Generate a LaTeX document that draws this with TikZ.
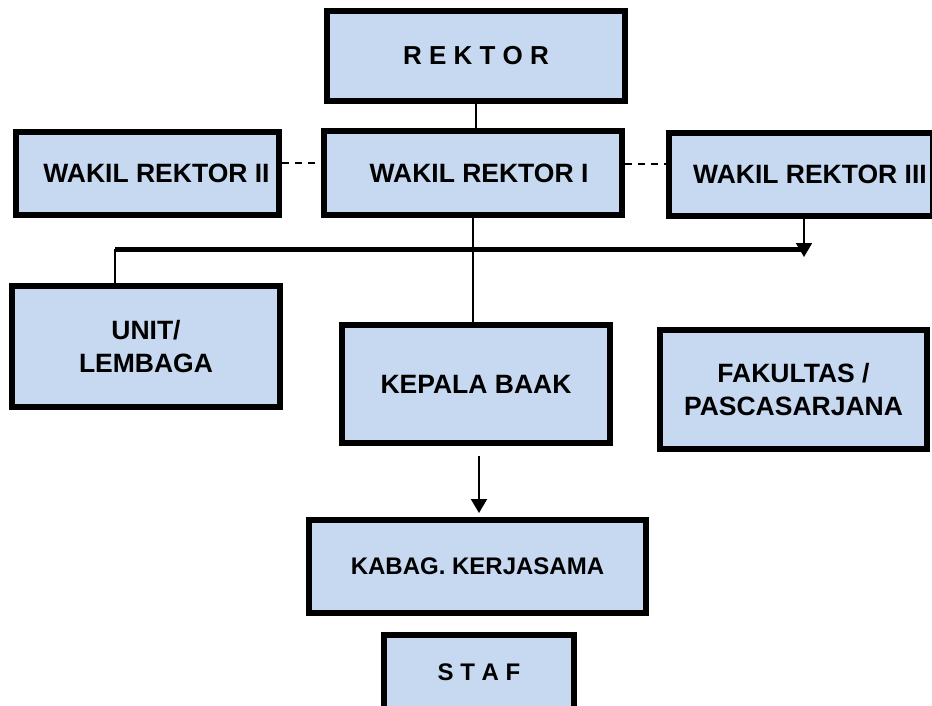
\documentclass[tikz,border=0pt]{standalone}
\usepackage{fontspec}
\setmainfont{Liberation Sans}
\usepackage{tikz}
\usetikzlibrary{arrows.meta}
\definecolor{boxblue}{HTML}{C6D9F1}

\begin{document}
\begin{tikzpicture}[x=1pt,y=-1pt,
    box/.style={draw=black,fill=boxblue,line width=6pt,inner sep=2pt,align=center,font=\fontsize{26.5}{33}\selectfont\bfseries},
    link/.style={line width=2pt},
    bus/.style={line width=5pt},
    down/.style={line width=2pt,-{Triangle[length=14pt,width=16pt]}}]
      \useasboundingbox (0,0) rectangle (932,706);
      \node[box,minimum width=298pt,minimum height=90pt,font=\fontsize{26}{30}\selectfont\bfseries](rektor) at (476,56){R E K T O R};
      \node[box,minimum width=298pt,minimum height=84pt](wr1) at (473,173){\hspace{12pt}WAKIL REKTOR I};
      \node[box,minimum width=263pt,minimum height=83pt](wr2) at (147.5,173.5){\hspace{18pt}WAKIL REKTOR II};
      \node[box,minimum width=264pt,minimum height=83pt](wr3) at (801,174.5){\hspace{18pt}WAKIL REKTOR III};
      \node[box,minimum width=268pt,minimum height=121pt](unit) at (146,346.5){UNIT/\\LEMBAGA};
      \node[box,minimum width=268pt,minimum height=118pt](baak) at (476,384){KEPALA BAAK};
      \node[box,minimum width=267pt,minimum height=119pt](fak) at (793.5,389.5){FAKULTAS /\\PASCASARJANA};
      \node[box,minimum width=337pt,minimum height=93pt,font=\fontsize{24}{28}\selectfont\bfseries](kabag) at (477.5,566.5){KABAG. KERJASAMA};
      \node[box,minimum width=190pt,minimum height=74pt,font=\fontsize{24}{28}\selectfont\bfseries](staf) at (479,672){S T A F};
      % garis antar kotak
      \coordinate (busL) at (115,249);
      \coordinate (busR) at (804,249);
      \draw[link] (rektor.south) -- (rektor.south |- wr1.north);
      \draw[link,dashed,dash pattern=on 7pt off 6pt] ([yshift=10pt]wr2.east) -- ([yshift=10pt]wr2.east -| wr1.west);
      \draw[link,dashed,dash pattern=on 7pt off 6pt] ([yshift=9pt]wr1.east) -- ([yshift=9pt]wr1.east -| wr3.west);
      \draw[link] (wr1.south) -- (wr1.south |- baak.north);
      \draw[bus] (busL) -- (busR);
      \draw[link] (busL) -- (busL |- unit.north);
      \draw[down] (wr3.south -| busR) -- ([yshift=-8pt]busR);
      \draw[down] ([xshift=3pt,yshift=-10pt]baak.south) -- ([xshift=1.5pt,yshift=4pt]kabag.north);
    \end{tikzpicture}
\end{document}
